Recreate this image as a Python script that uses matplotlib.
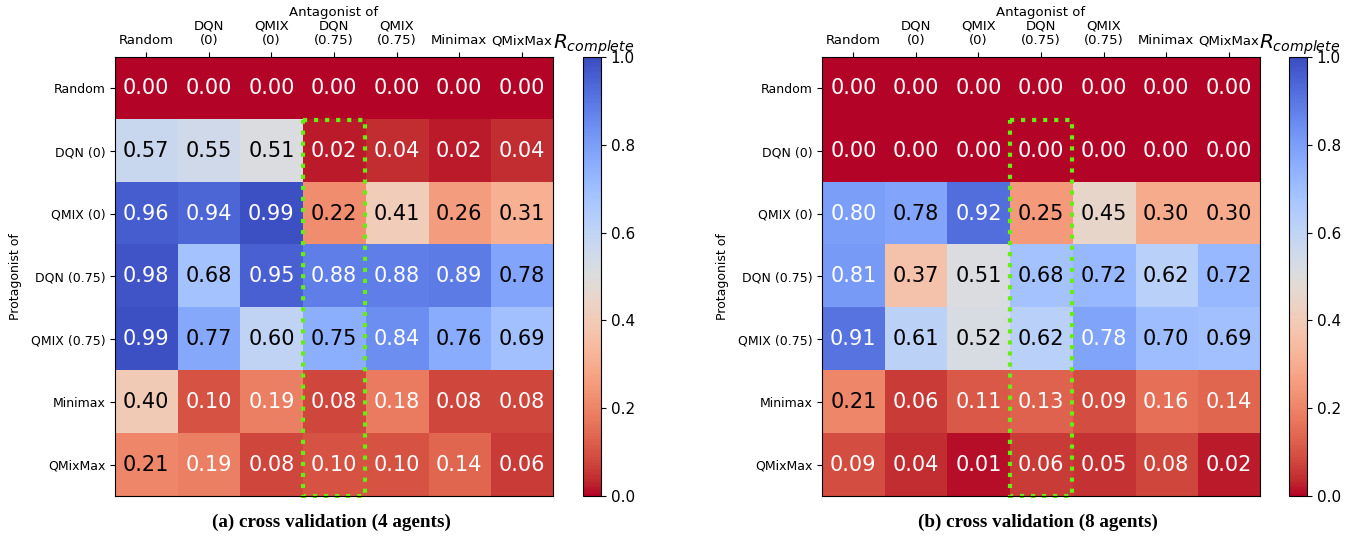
import numpy as np
import matplotlib.pyplot as plt
from matplotlib.patches import Rectangle

# Cross validation results: protagonist (rows) vs antagonist (columns)
col_labels = ['Random', 'DQN\n(0)', 'QMIX\n(0)', 'DQN\n(0.75)', 'QMIX\n(0.75)', 'Minimax', 'QMixMax']
row_labels = ['Random', 'DQN (0)', 'QMIX (0)', 'DQN (0.75)', 'QMIX (0.75)', 'Minimax', 'QMixMax']

r_4_agents = [
    [0.00, 0.00, 0.00, 0.00, 0.00, 0.00, 0.00],
    [0.57, 0.55, 0.51, 0.02, 0.04, 0.02, 0.04],
    [0.96, 0.94, 0.99, 0.22, 0.41, 0.26, 0.31],
    [0.98, 0.68, 0.95, 0.88, 0.88, 0.89, 0.78],
    [0.99, 0.77, 0.60, 0.75, 0.84, 0.76, 0.69],
    [0.40, 0.10, 0.19, 0.08, 0.18, 0.08, 0.08],
    [0.21, 0.19, 0.08, 0.10, 0.10, 0.14, 0.06],
]

r_8_agents = [
    [0.00, 0.00, 0.00, 0.00, 0.00, 0.00, 0.00],
    [0.00, 0.00, 0.00, 0.00, 0.00, 0.00, 0.00],
    [0.80, 0.78, 0.92, 0.25, 0.45, 0.30, 0.30],
    [0.81, 0.37, 0.51, 0.68, 0.72, 0.62, 0.72],
    [0.91, 0.61, 0.52, 0.62, 0.784, 0.70, 0.69],
    [0.21, 0.06, 0.11, 0.13, 0.09, 0.16, 0.14],
    [0.09, 0.04, 0.01, 0.06, 0.05, 0.08, 0.02],
]

highlight_col = 3  # DQN (0.75) antagonist
captions = ['(a) cross validation (4 agents)', '(b) cross validation (8 agents)']

fig = plt.figure(figsize=(13.59, 5.4), dpi=100)

panels = [
    (r_4_agents, [0.0846, 0.0815, 0.3223, 0.813], [0.429, 0.0815, 0.0132, 0.813]),
    (r_8_agents, [0.6049, 0.0815, 0.3223, 0.813], [0.9485, 0.0815, 0.0132, 0.813]),
]

for (data, ax_pos, cb_pos), caption in zip(panels, captions):
    data = np.array(data)
    ax = fig.add_axes(ax_pos)
    cax = fig.add_axes(cb_pos)
    im = ax.imshow(data, cmap='coolwarm_r', vmin=0, vmax=1, aspect='auto')

    for i in range(data.shape[0]):
        for j in range(data.shape[1]):
            v = data[i, j]
            color = 'white' if (v < 0.195 or v > 0.782) else 'black'
            ax.text(j, i, f"{v:.2f}", ha='center', va='center', fontsize=15, color=color)

    ax.set_xticks(range(len(col_labels)))
    ax.set_xticklabels(col_labels, fontsize=9.5)
    ax.set_yticks(range(len(row_labels)))
    ax.set_yticklabels(row_labels, fontsize=9)
    ax.xaxis.tick_top()
    ax.xaxis.set_label_position('top')
    ax.set_xlabel('Antagonist of', fontsize=9.5, labelpad=2)
    ax.set_ylabel('Protagonist of', fontsize=9, labelpad=6)

    # dotted box around the DQN (0.75) column
    rect = Rectangle((highlight_col - 0.5, 0.5), 1, data.shape[0] - 1,
                     fill=False, edgecolor='#66ee11', linestyle=':', linewidth=3, clip_on=False)
    ax.add_patch(rect)

    cbar = fig.colorbar(im, cax=cax)
    cbar.set_ticks([0.0, 0.2, 0.4, 0.6, 0.8, 1.0])
    cbar.ax.tick_params(labelsize=11)
    cax.text(0.6, 1.0, r'$R_{complete}$', transform=cax.transAxes, ha='center', va='bottom',
             fontsize=14.5)

    fig.text(ax_pos[0] + ax_pos[2] / 2 - 0.002, 0.032, caption, ha='center', va='center',
             fontsize=13.8, fontweight='bold', family='Liberation Serif')

plt.savefig('out.png', dpi=100)
